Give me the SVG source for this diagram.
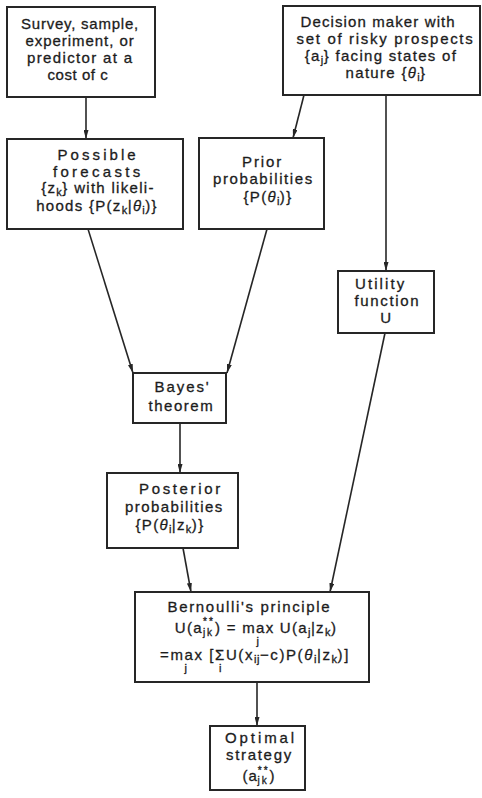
<svg xmlns="http://www.w3.org/2000/svg" width="482" height="798" viewBox="0 0 482 798">
  <style>
    .box { fill: #ffffff; stroke: #262626; stroke-width: 2; }
    .edge { fill: none; stroke: #262626; stroke-width: 1.6; marker-end: url(#ah); }
    text { font-family: "Liberation Sans", Arial, sans-serif; font-size: 15px; fill: #1c1c1c; stroke: #1c1c1c; stroke-width: 0.3px; text-anchor: middle; letter-spacing: 0.8px; }
    .s { font-size: 11px; letter-spacing: 0.5px; }
    .st { font-size: 10px; letter-spacing: 2px; }
    .g { font-style: italic; }
    .wide { letter-spacing: 1.3px; }
  </style>
  <defs>
    <marker id="ah" viewBox="0 0 9 5" refX="9" refY="2.5" markerWidth="9" markerHeight="5" markerUnits="userSpaceOnUse" orient="auto">
      <path d="M0,0 L9,2.5 L0,5 z" fill="#262626"/>
    </marker>
  </defs>
  <rect width="482" height="798" fill="#ffffff"/>

  <!-- connectors -->
  <g id="connectors">
    <line class="edge" x1="86" y1="97" x2="86" y2="139"/>
    <line class="edge" x1="304" y1="95" x2="293" y2="138"/>
    <line class="edge" x1="386" y1="95" x2="386" y2="271"/>
    <line class="edge" x1="88" y1="229" x2="133" y2="373"/>
    <line class="edge" x1="267" y1="229" x2="227" y2="373"/>
    <line class="edge" x1="180" y1="423" x2="180" y2="473"/>
    <line class="edge" x1="183" y1="548" x2="191" y2="592"/>
    <line class="edge" x1="385" y1="333" x2="330" y2="592"/>
    <line class="edge" x1="257" y1="682" x2="257" y2="726"/>
  </g>

  <!-- source of information -->
  <g id="survey">
    <rect class="box" x="7" y="7" width="148" height="90"/>
    <text x="80" y="29" textLength="118" lengthAdjust="spacing">Survey, sample,</text>
    <text x="80" y="46" textLength="109" lengthAdjust="spacing">experiment, or</text>
    <text x="80" y="63" textLength="106" lengthAdjust="spacing">predictor at a</text>
    <text x="78" y="80" textLength="61" lengthAdjust="spacing">cost of c</text>
  </g>

  <!-- decision maker -->
  <g id="decision-maker">
    <rect class="box" x="283" y="6" width="197" height="89"/>
    <text x="378" y="27" textLength="155" lengthAdjust="spacing">Decision maker with</text>
    <text x="385" y="44" textLength="177" lengthAdjust="spacing">set of risky prospects</text>
    <text class="wide" x="381" y="61">{a<tspan class="s" dy="3">j</tspan><tspan dy="-3">} facing states of</tspan></text>
    <text class="wide" x="386" y="78">nature {<tspan class="g">θ</tspan><tspan class="s" dy="3">i</tspan><tspan dy="-3">}</tspan></text>
  </g>

  <!-- possible forecasts -->
  <g id="forecasts">
    <rect class="box" x="7" y="139" width="176" height="90"/>
    <text x="97" y="160" textLength="79" lengthAdjust="spacing">Possible</text>
    <text x="97" y="177" textLength="88" lengthAdjust="spacing">forecasts</text>
    <text class="wide" x="98" y="193">{z<tspan class="s" dy="3">k</tspan><tspan dy="-3">} with likeli-</tspan></text>
    <text class="wide" x="97" y="211">hoods {P(z<tspan class="s" dy="3">k</tspan><tspan dy="-3">|</tspan><tspan class="g">θ</tspan><tspan class="s" dy="3">i</tspan><tspan dy="-3">)}</tspan></text>
  </g>

  <!-- prior probabilities -->
  <g id="prior">
    <rect class="box" x="199" y="138" width="125" height="91"/>
    <text x="262" y="167" textLength="40" lengthAdjust="spacing">Prior</text>
    <text x="263" y="184" textLength="100" lengthAdjust="spacing">probabilities</text>
    <text class="wide" x="268" y="202">{P(<tspan class="g">θ</tspan><tspan class="s" dy="3">i</tspan><tspan dy="-3">)}</tspan></text>
  </g>

  <!-- utility function -->
  <g id="utility">
    <rect class="box" x="338" y="271" width="96" height="62"/>
    <text x="380" y="289" textLength="50" lengthAdjust="spacing">Utility</text>
    <text x="387" y="306" textLength="65" lengthAdjust="spacing">function</text>
    <text x="386" y="323">U</text>
  </g>

  <!-- Bayes' theorem -->
  <g id="bayes">
    <rect class="box" x="133" y="373" width="93" height="50"/>
    <text x="182" y="392" textLength="55" lengthAdjust="spacing">Bayes'</text>
    <text x="181" y="411" textLength="65" lengthAdjust="spacing">theorem</text>
  </g>

  <!-- posterior probabilities -->
  <g id="posterior">
    <rect class="box" x="107" y="473" width="131" height="75"/>
    <text x="180" y="494" textLength="82" lengthAdjust="spacing">Posterior</text>
    <text x="174" y="512" textLength="98" lengthAdjust="spacing">probabilities</text>
    <text class="wide" x="170" y="530">{P(<tspan class="g">θ</tspan><tspan class="s" dy="3">i</tspan><tspan dy="-3">|z</tspan><tspan class="s" dy="3">k</tspan><tspan dy="-3">)}</tspan></text>
  </g>

  <!-- Bernoulli's principle -->
  <g id="bernoulli">
    <rect class="box" x="135" y="592" width="234" height="90"/>
    <text x="249" y="612" textLength="163" lengthAdjust="spacing">Bernoulli's principle</text>
    <text class="wide" x="256" y="633">U(a<tspan class="st" dy="3">jk</tspan><tspan class="st" dx="-11" dy="-11">**</tspan><tspan dy="8">) = max</tspan><tspan class="s" dx="-18" dy="12">j</tspan><tspan dx="15" dy="-12"> U(a</tspan><tspan class="s" dy="3">j</tspan><tspan dy="-3">|z</tspan><tspan class="s" dy="3">k</tspan><tspan dy="-3">)</tspan></text>
    <text x="255" y="660" style="letter-spacing:1.6px">=max<tspan class="s" dx="-19" dy="12">j</tspan><tspan dx="16" dy="-12"> [Σ</tspan><tspan class="s" dx="-7" dy="12">i</tspan><tspan dx="4" dy="-12">U(x</tspan><tspan class="s" dy="3">ij</tspan><tspan dy="-3">−c)P(</tspan><tspan class="g">θ</tspan><tspan class="s" dy="3">i</tspan><tspan dy="-3">|z</tspan><tspan class="s" dy="3">k</tspan><tspan dy="-3">)]</tspan></text>
  </g>

  <!-- optimal strategy -->
  <g id="optimal">
    <rect class="box" x="210" y="726" width="95" height="64"/>
    <text x="260" y="743" textLength="70" lengthAdjust="spacing">Optimal</text>
    <text x="259" y="760" textLength="66" lengthAdjust="spacing">strategy</text>
    <text x="259" y="781">(a<tspan class="st" dy="3">jk</tspan><tspan class="st" dx="-11" dy="-10">**</tspan><tspan dy="7">)</tspan></text>
  </g>
</svg>
